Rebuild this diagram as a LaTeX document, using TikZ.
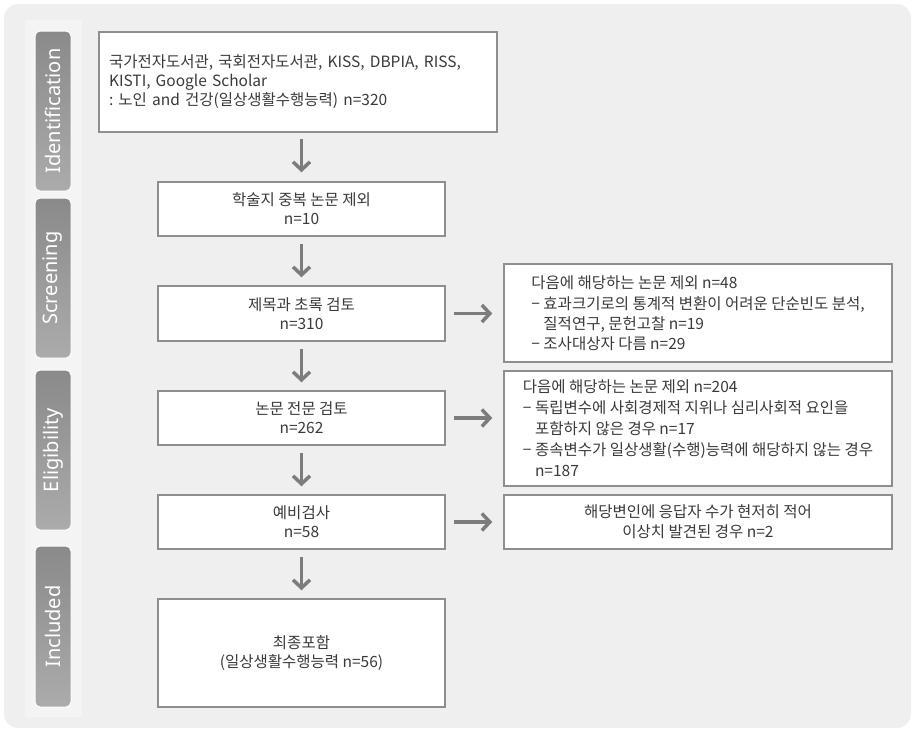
\documentclass[tikz,border=0pt]{standalone}
\usepackage{fontspec}
\setmainfont{Noto Sans CJK KR}
\newfontfamily\stagefont{Noto Sans}
\usetikzlibrary{arrows.meta}
\definecolor{panelgray}{HTML}{EFEFEF}
\definecolor{stripgray}{HTML}{F4F4F4}
\definecolor{boxline}{HTML}{8E8E8E}
\definecolor{arrowgray}{HTML}{7C7C7C}
\definecolor{textgray}{HTML}{3A3A3A}
\definecolor{stagetop}{HTML}{8A8A8A}
\definecolor{stagebottom}{HTML}{ABABAB}

\begin{document}
\frenchspacing
\begin{tikzpicture}[x=1pt,y=-1pt,
    flowbox/.style={draw=boxline,line width=1.5pt,fill=white,text=textgray,
      inner sep=0pt,font=\fontsize{15.5}{19}\selectfont},
    exclbox/.style={flowbox,minimum width=388pt,align=left,
      font=\fontsize{15.5}{20}\selectfont},
    stagebox/.style={draw=white,line width=1pt,rounded corners=5pt,
      top color=stagetop,bottom color=stagebottom,minimum width=36pt,
      minimum height=160pt,inner sep=0pt,text=white,
      font=\stagefont\fontsize{20}{22}\selectfont},
    flowarrow/.style={draw=arrowgray,line width=3.5pt,
      -{Straight Barb[length=8pt,width=17pt]}}]

  \useasboundingbox (0,0) rectangle (915,732);
  \fill[panelgray,rounded corners=14pt] (4,4) rectangle (911,728);
  \fill[stripgray] (25,20) rectangle (82,717);

  % stages
  \node[stagebox] (ident) at (53,111) {\rotatebox{90}{Identification}};
  \node[stagebox] (screen) at (53,278) {\rotatebox{90}{Screening}};
  \node[stagebox] (elig) at (53,450) {\rotatebox{90}{Eligibility}};
  \node[stagebox,minimum height=161pt] (incl) at (53,626.5) {\rotatebox{90}{Included}};

  % main flow
  \node[flowbox,minimum width=398pt,minimum height=100pt,text width=378pt,
    align=left] (search) at (298,82)
    {국가전자도서관, 국회전자도서관, KISS, DBPIA, RISS,\\
     KISTI, Google Scholar\\
     : 노인 and 건강(일상생활수행능력) n=320};
  \node[flowbox,minimum width=287pt,minimum height=54pt,align=center] (dup)
    at (301.5,209) {학술지 중복 논문 제외\\n=10};
  \node[flowbox,minimum width=287pt,minimum height=55pt,align=center] (title)
    at (301.5,313.5) {제목과 초록 검토\\n=310};
  \node[flowbox,minimum width=287pt,minimum height=54pt,align=center] (full)
    at (301.5,418) {논문 전문 검토\\n=262};
  \node[flowbox,minimum width=287pt,minimum height=54pt,align=center] (pre)
    at (301.5,522) {예비검사\\n=58};
  \node[flowbox,minimum width=287pt,minimum height=108pt,align=center] (final)
    at (301.5,653) {최종포함\\(일상생활수행능력 n=56)};

  % exclusions
  \node[exclbox,minimum height=98pt] (excl1) at (698,313)
    {다음에 해당하는 논문 제외 n=48\\[1pt]
     − 효과크기로의 통계적 변환이 어려운 단순빈도 분석,\\
     \phantom{− }질적연구, 문헌고찰 n=19\\
     − 조사대상자 다름 n=29};
  \node[exclbox,minimum height=115pt,font=\fontsize{15.5}{21}\selectfont] (excl2)
    at (698,428.5)
    {다음에 해당하는 논문 제외 n=204\\
     − 독립변수에 사회경제적 지위나 심리사회적 요인을\\
     \phantom{− }포함하지 않은 경우 n=17\\
     − 종속변수가 일상생활(수행)능력에 해당하지 않는 경우\\
     \phantom{− }n=187};
  \node[exclbox,minimum height=54pt,align=center] (excl3) at (698,522)
    {해당변인에 응답자 수가 현저히 적어\\이상치 발견된 경우 n=2};

  % arrows
  \draw[flowarrow,shorten <=6pt,shorten >=9pt] (search.south -| dup.north) -- (dup.north);
  \foreach \a/\b in {dup/title,title/full,full/pre,pre/final}
    \draw[flowarrow,shorten <=7pt,shorten >=8pt] (\a.south) -- (\b.north);
  \foreach \a/\b in {title/excl1,full/excl2,pre/excl3}
    \draw[flowarrow,shorten <=8pt,shorten >=11pt] (\a.east) -- (\a.east -| \b.west);
\end{tikzpicture}
\end{document}
